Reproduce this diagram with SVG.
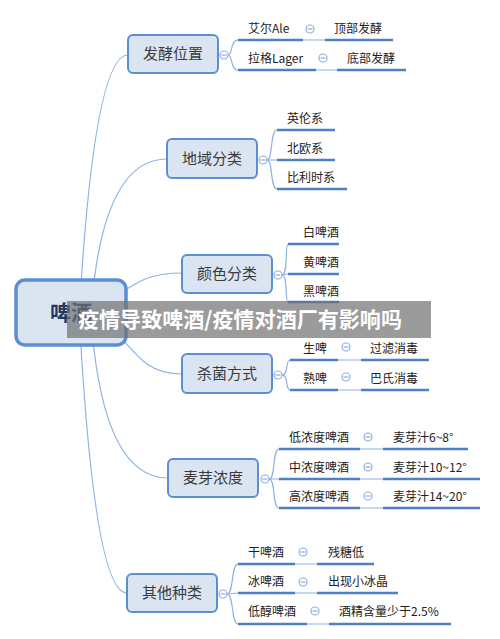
<svg xmlns="http://www.w3.org/2000/svg" width="500" height="639" viewBox="0 0 500 639">
<style>
.bg{fill:#ffffff}
.main rect{fill:#dbe5f2;stroke:#5b8fd2;stroke-width:2}
.main text{font-family:"Noto Sans CJK SC","Liberation Sans",sans-serif;font-size:15px;fill:#3a3a3a;text-anchor:middle}
.root rect{fill:#dbe5f2;stroke:#5b8fd2;stroke-width:3.5}
.root text{font-family:"Noto Sans CJK SC","Liberation Sans",sans-serif;font-size:21px;font-weight:bold;fill:#1f3864;text-anchor:middle}
.leaf text{font-family:"Noto Sans CJK SC","Liberation Sans",sans-serif;font-size:12px;fill:#222}
.ul{stroke:#4f7fc4;stroke-width:2.6;fill:none}
.thin{stroke:#8db3e2;stroke-width:1.2;fill:none}
.tog{fill:#ffffff;stroke:#8eaee0;stroke-width:1.2}
.tm{stroke:#8eaee0;stroke-width:1.2}
.banner{fill:#707070;opacity:0.7}
.btext{font-family:"Noto Sans CJK SC","Liberation Sans",sans-serif;font-size:21px;font-weight:bold;fill:#ffffff}
</style>
<rect class="bg" x="0" y="0" width="500" height="639"/>
<g id="connectors">
  <path class="thin" d="M80,300 Q95,55 128,55"/>
  <path class="thin" d="M92,300 Q105,159 167,159"/>
  <path class="thin" d="M110,300 C140,280 150,273 182,273"/>
  <path class="thin" d="M110,325 C140,360 150,374 182,374"/>
  <path class="thin" d="M92,330 Q105,478 168,478"/>
  <path class="thin" d="M80,330 Q95,593 127,593"/>
  <!-- brackets -->
  <path class="thin" d="M228,55 C233,55 230,40 238,40 M228,55 C233,55 230,70 238,70"/>
  <path class="thin" d="M267,160 C273,160 270,130 277,130 M267,160 L277,160 M267,160 C273,160 270,189 277,189"/>
  <path class="thin" d="M282,275 C288,275 285,244 288,244 M282,275 L288,274 M282,275 C288,275 285,302 288,302"/>
  <path class="thin" d="M282,375 C289,375 285,360 290,360 M282,375 C289,375 285,390 290,390"/>
  <path class="thin" d="M269,479 C276,479 272,449 279,449 M269,479 L279,479 M269,479 C276,479 272,508 279,508"/>
  <path class="thin" d="M227,594 C234,594 231,564 238,564 M227,594 L238,593 M227,594 C234,594 231,624 238,624"/>
  <!-- thin links between child and grandchild -->
  <path class="thin" d="M303,40 H325 M316,70 H337 M338,360 H361 M338,390 H361 M360,449 H383 M360,479 H383 M360,508 H383 M295,564 H317 M295,593 H317 M307,624 H329"/>
</g>
<g id="root" class="root">
  <rect x="16" y="280" width="110" height="65" rx="9"/>
  <text x="71" y="320">啤酒</text>
</g>
<g id="n-fajiao" class="main">
  <rect x="128" y="35" width="90" height="38" rx="5"/>
  <text x="173" y="59">发酵位置</text>
  <circle class="tog" cx="224" cy="55" r="4"/><line class="tm" x1="221.5" y1="55" x2="226.5" y2="55"/>
</g>
<g id="n-diyu" class="main">
  <rect x="167" y="139" width="90" height="39" rx="5"/>
  <text x="212" y="164">地域分类</text>
  <circle class="tog" cx="263" cy="160" r="4"/><line class="tm" x1="260.5" y1="160" x2="265.5" y2="160"/>
</g>
<g id="n-yanse" class="main">
  <rect x="182" y="255" width="90" height="38" rx="5"/>
  <text x="227" y="279">颜色分类</text>
  <circle class="tog" cx="278" cy="275" r="4"/><line class="tm" x1="275.5" y1="275" x2="280.5" y2="275"/>
</g>
<g id="n-shajun" class="main">
  <rect x="182" y="354" width="90" height="39" rx="5"/>
  <text x="227" y="379">杀菌方式</text>
  <circle class="tog" cx="278" cy="375" r="4"/><line class="tm" x1="275.5" y1="375" x2="280.5" y2="375"/>
</g>
<g id="n-maiya" class="main">
  <rect x="168" y="459" width="90" height="38" rx="5"/>
  <text x="213" y="483">麦芽浓度</text>
  <circle class="tog" cx="265" cy="479" r="4"/><line class="tm" x1="262.5" y1="479" x2="267.5" y2="479"/>
</g>
<g id="n-qita" class="main">
  <rect x="127" y="574" width="90" height="38" rx="5"/>
  <text x="172" y="598">其他种类</text>
  <circle class="tog" cx="223" cy="594" r="4"/><line class="tm" x1="220.5" y1="594" x2="225.5" y2="594"/>
</g>
<g id="l-ale" class="leaf">
  <text x="248" y="33">艾尔Ale</text><path class="ul" d="M238,40 H303"/>
  <circle class="tog" cx="310" cy="29" r="4"/><line class="tm" x1="307.5" y1="29" x2="312.5" y2="29"/>
</g>
<g id="l-ding" class="leaf"><text x="334" y="33">顶部发酵</text><path class="ul" d="M325,40 H393"/></g>
<g id="l-lager" class="leaf">
  <text x="248" y="63">拉格Lager</text><path class="ul" d="M238,70 H316"/>
  <circle class="tog" cx="323" cy="58" r="4"/><line class="tm" x1="320.5" y1="58" x2="325.5" y2="58"/>
</g>
<g id="l-di" class="leaf"><text x="347" y="63">底部发酵</text><path class="ul" d="M337,70 H406"/></g>
<g id="l-yinglun" class="leaf"><text x="287" y="123">英伦系</text><path class="ul" d="M277,130 H335"/></g>
<g id="l-beiou" class="leaf"><text x="287" y="153">北欧系</text><path class="ul" d="M277,160 H335"/></g>
<g id="l-bilishi" class="leaf"><text x="287" y="182">比利时系</text><path class="ul" d="M277,189 H347"/></g>
<g id="l-bai" class="leaf"><text x="303" y="237">白啤酒</text><path class="ul" d="M288,244 H339"/></g>
<g id="l-huang" class="leaf"><text x="303" y="267">黄啤酒</text><path class="ul" d="M288,274 H339"/></g>
<g id="l-hei" class="leaf"><text x="303" y="296">黑啤酒</text><path class="ul" d="M288,302 H339"/></g>
<g id="l-sheng" class="leaf">
  <text x="303" y="353">生啤</text><path class="ul" d="M290,360 H338"/>
  <circle class="tog" cx="346" cy="347" r="4"/><line class="tm" x1="343.5" y1="347" x2="348.5" y2="347"/>
</g>
<g id="l-guolv" class="leaf"><text x="370" y="353">过滤消毒</text><path class="ul" d="M361,360 H429"/></g>
<g id="l-shu" class="leaf">
  <text x="303" y="383">熟啤</text><path class="ul" d="M290,390 H338"/>
  <circle class="tog" cx="346" cy="377" r="4"/><line class="tm" x1="343.5" y1="377" x2="348.5" y2="377"/>
</g>
<g id="l-bashi" class="leaf"><text x="370" y="383">巴氏消毒</text><path class="ul" d="M361,390 H429"/></g>
<g id="l-dinong" class="leaf">
  <text x="289" y="442">低浓度啤酒</text><path class="ul" d="M279,449 H360"/>
  <circle class="tog" cx="368" cy="437" r="4"/><line class="tm" x1="365.5" y1="437" x2="370.5" y2="437"/>
</g>
<g id="l-m1" class="leaf"><text x="393" y="442">麦芽汁6~8°</text><path class="ul" d="M383,449 H468"/></g>
<g id="l-zhongnong" class="leaf">
  <text x="289" y="472">中浓度啤酒</text><path class="ul" d="M279,479 H360"/>
  <circle class="tog" cx="368" cy="467" r="4"/><line class="tm" x1="365.5" y1="467" x2="370.5" y2="467"/>
</g>
<g id="l-m2" class="leaf"><text x="393" y="472">麦芽汁10~12°</text><path class="ul" d="M383,479 H480"/></g>
<g id="l-gaonong" class="leaf">
  <text x="289" y="501">高浓度啤酒</text><path class="ul" d="M279,508 H360"/>
  <circle class="tog" cx="368" cy="496" r="4"/><line class="tm" x1="365.5" y1="496" x2="370.5" y2="496"/>
</g>
<g id="l-m3" class="leaf"><text x="393" y="501">麦芽汁14~20°</text><path class="ul" d="M383,508 H480"/></g>
<g id="l-gan" class="leaf">
  <text x="248" y="557">干啤酒</text><path class="ul" d="M238,564 H295"/>
  <circle class="tog" cx="303" cy="552" r="4"/><line class="tm" x1="300.5" y1="552" x2="305.5" y2="552"/>
</g>
<g id="l-cantang" class="leaf"><text x="328" y="557">残糖低</text><path class="ul" d="M317,564 H374"/></g>
<g id="l-bing" class="leaf">
  <text x="248" y="586">冰啤酒</text><path class="ul" d="M238,593 H295"/>
  <circle class="tog" cx="303" cy="582" r="4"/><line class="tm" x1="300.5" y1="582" x2="305.5" y2="582"/>
</g>
<g id="l-bingjing" class="leaf"><text x="328" y="586">出现小冰晶</text><path class="ul" d="M317,593 H398"/></g>
<g id="l-dichun" class="leaf">
  <text x="248" y="616">低醇啤酒</text><path class="ul" d="M238,624 H307"/>
  <circle class="tog" cx="315" cy="611" r="4"/><line class="tm" x1="312.5" y1="611" x2="317.5" y2="611"/>
</g>
<g id="l-jiujing" class="leaf"><text x="339" y="616">酒精含量少于2.5%</text><path class="ul" d="M329,624 H451"/></g>
<g id="banner">
  <rect class="banner" x="67" y="301" width="364" height="37"/>
  <text class="btext" x="78" y="327" textLength="324" lengthAdjust="spacingAndGlyphs">疫情导致啤酒/疫情对酒厂有影响吗</text>
</g>
</svg>
